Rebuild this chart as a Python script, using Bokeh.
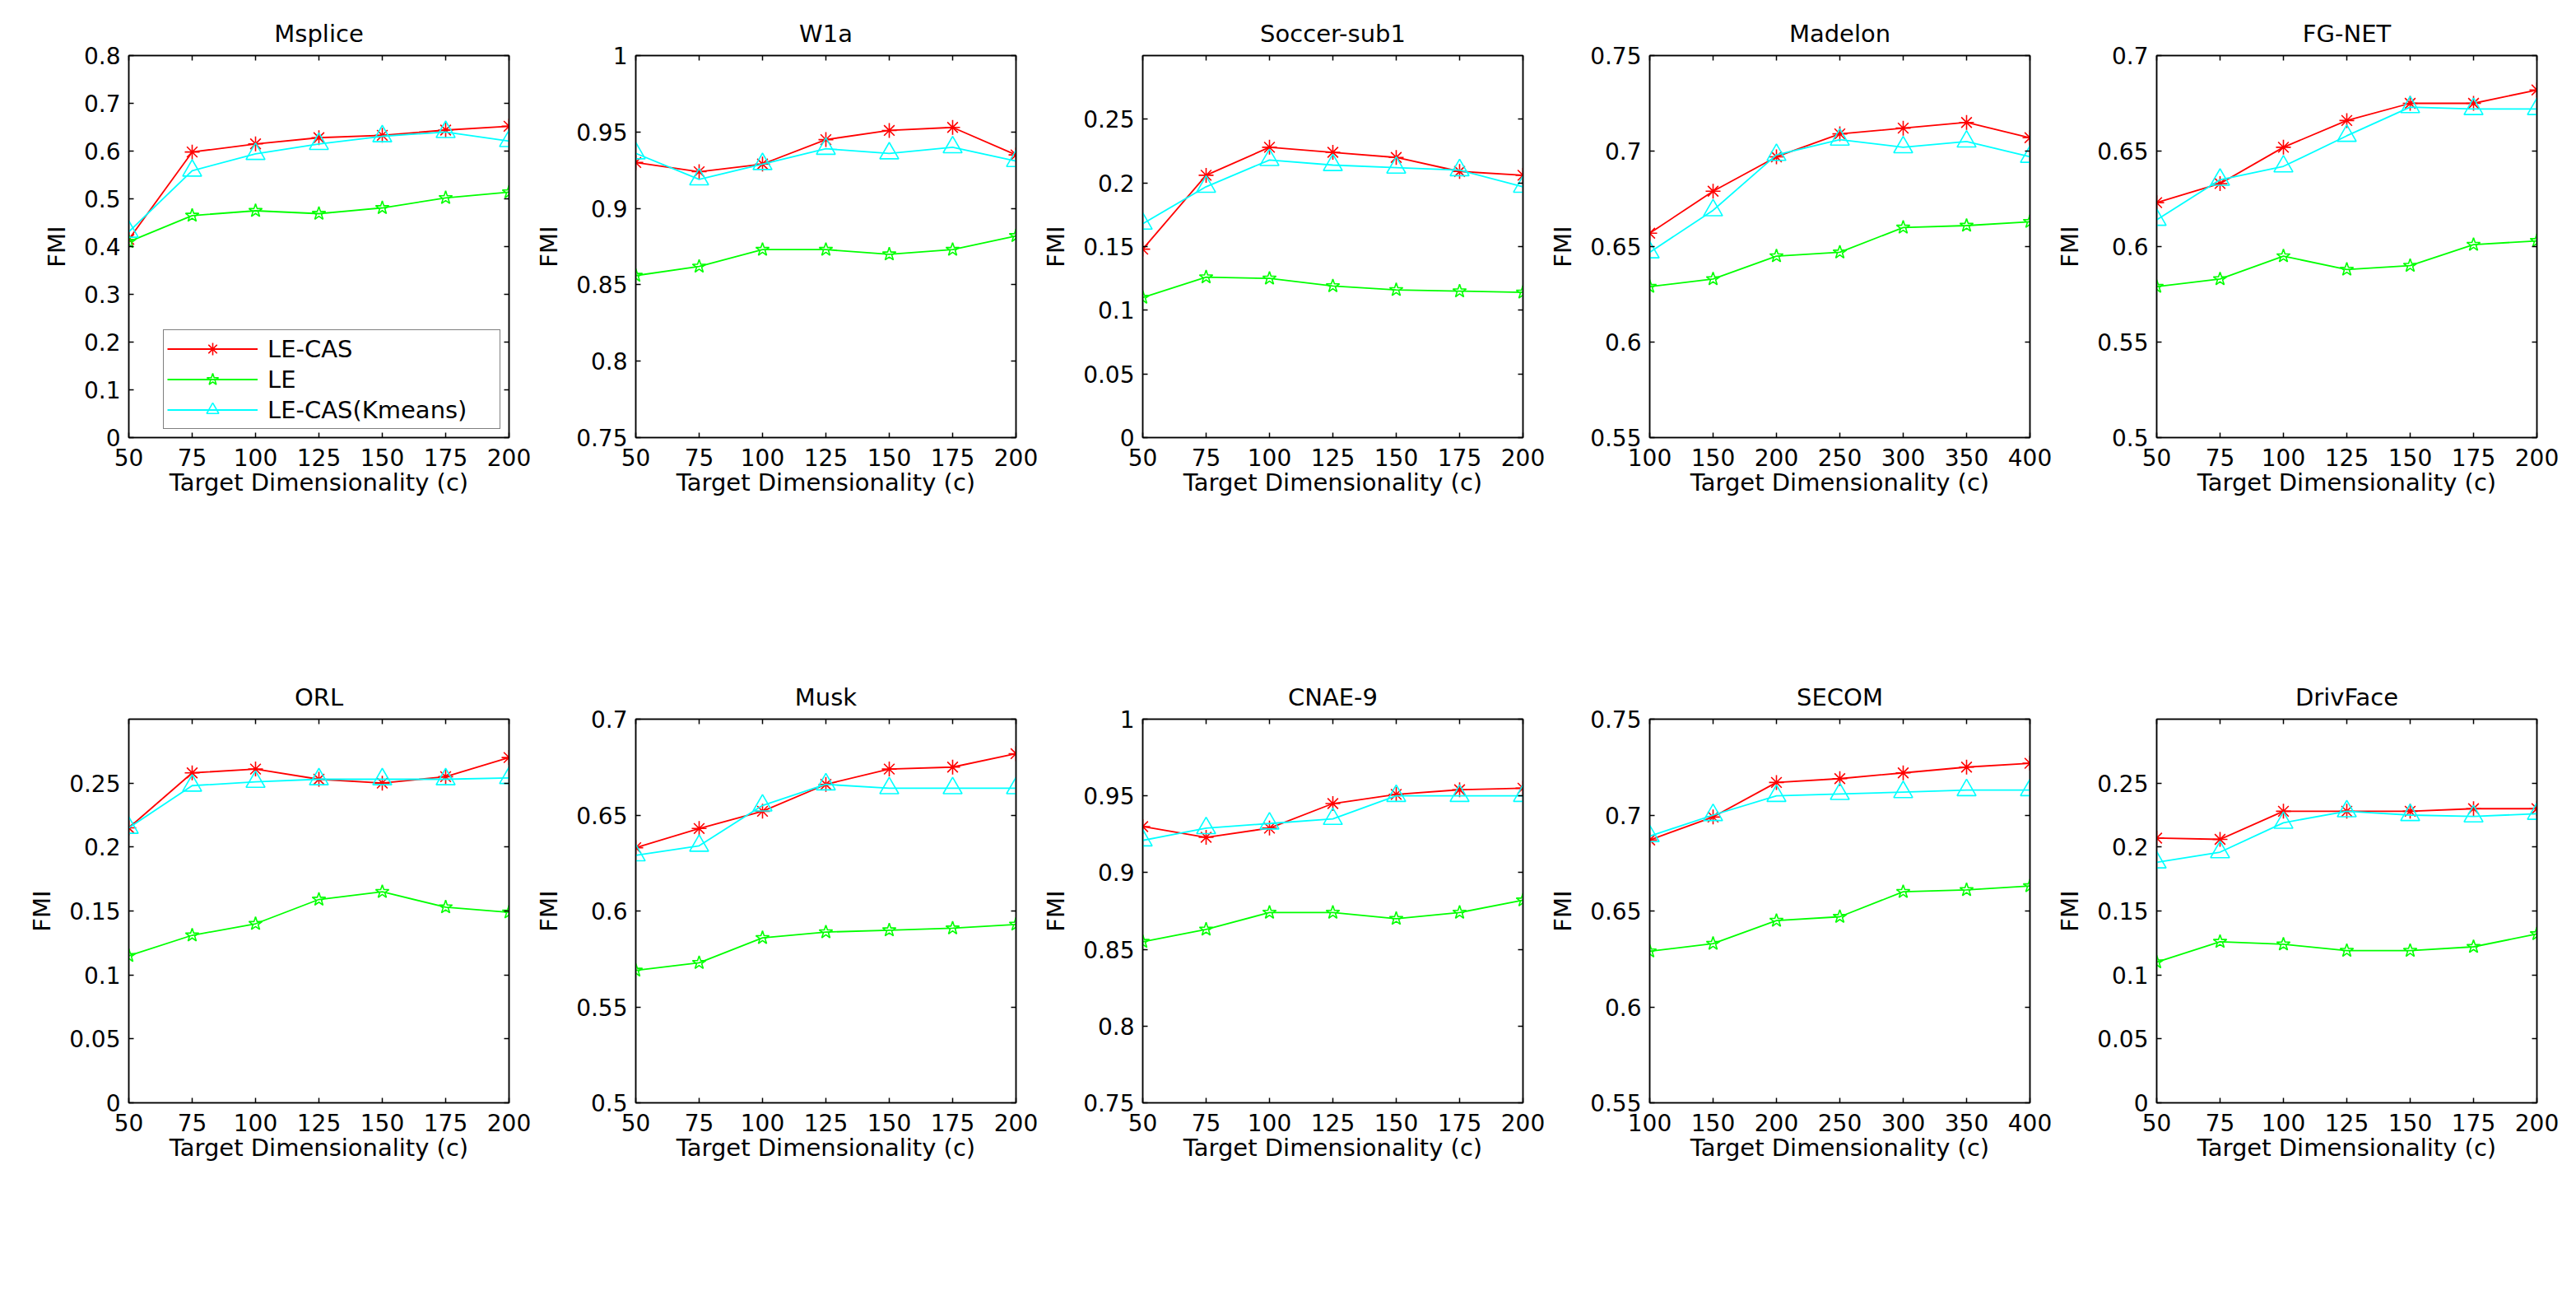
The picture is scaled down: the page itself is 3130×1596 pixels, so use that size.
from bokeh.plotting import figure
from bokeh.models import (Range1d, FixedTicker, LinearAxis, CustomJSTickFormatter,
                          Legend, LegendItem)
from bokeh.layouts import column, row
from bokeh.embed import file_html
from bokeh.resources import INLINE

FONT = "DejaVu Sans"

# ---------------- data ----------------
dims_small = [50, 75, 100, 125, 150, 175, 200]
dims_large = [100, 150, 200, 250, 300, 350, 400]

series_names = ["LE-CAS", "LE", "LE-CAS(Kmeans)"]

msplice_lecas = [0.415, 0.598, 0.615, 0.628, 0.633, 0.644, 0.652]
msplice_le = [0.410, 0.465, 0.475, 0.469, 0.481, 0.502, 0.514]
msplice_km = [0.431, 0.559, 0.594, 0.615, 0.631, 0.640, 0.621]

w1a_lecas = [0.930, 0.924, 0.929, 0.945, 0.951, 0.953, 0.935]
w1a_le = [0.856, 0.862, 0.873, 0.873, 0.870, 0.873, 0.882]
w1a_km = [0.936, 0.919, 0.929, 0.939, 0.936, 0.940, 0.931]

soccer_lecas = [0.148, 0.206, 0.228, 0.224, 0.220, 0.209, 0.206]
soccer_le = [0.110, 0.126, 0.125, 0.119, 0.116, 0.115, 0.114]
soccer_km = [0.168, 0.197, 0.218, 0.214, 0.212, 0.210, 0.197]

madelon_lecas = [0.657, 0.679, 0.697, 0.709, 0.712, 0.715, 0.707]
madelon_le = [0.629, 0.633, 0.645, 0.647, 0.660, 0.661, 0.663]
madelon_km = [0.647, 0.669, 0.698, 0.706, 0.702, 0.705, 0.697]

fgnet_lecas = [0.623, 0.633, 0.652, 0.666, 0.675, 0.675, 0.682]
fgnet_le = [0.579, 0.583, 0.595, 0.588, 0.590, 0.601, 0.603]
fgnet_km = [0.614, 0.635, 0.642, 0.658, 0.673, 0.672, 0.672]

orl_lecas = [0.215, 0.258, 0.261, 0.253, 0.250, 0.255, 0.270]
orl_le = [0.115, 0.131, 0.140, 0.159, 0.165, 0.153, 0.149]
orl_km = [0.215, 0.248, 0.251, 0.253, 0.253, 0.253, 0.254]

musk_lecas = [0.633, 0.643, 0.652, 0.666, 0.674, 0.675, 0.682]
musk_le = [0.569, 0.573, 0.586, 0.589, 0.590, 0.591, 0.593]
musk_km = [0.629, 0.634, 0.655, 0.666, 0.664, 0.664, 0.664]

cnae_lecas = [0.930, 0.923, 0.929, 0.945, 0.951, 0.954, 0.955]
cnae_le = [0.855, 0.863, 0.874, 0.874, 0.870, 0.874, 0.882]
cnae_km = [0.921, 0.929, 0.932, 0.935, 0.950, 0.950, 0.950]

secom_lecas = [0.687, 0.699, 0.717, 0.719, 0.722, 0.725, 0.727]
secom_le = [0.629, 0.633, 0.645, 0.647, 0.660, 0.661, 0.663]
secom_km = [0.689, 0.700, 0.710, 0.711, 0.712, 0.713, 0.713]

drivface_lecas = [0.207, 0.206, 0.228, 0.228, 0.228, 0.230, 0.230]
drivface_le = [0.110, 0.126, 0.124, 0.119, 0.119, 0.122, 0.132]
drivface_km = [0.188, 0.196, 0.219, 0.228, 0.225, 0.224, 0.226]

titles = ["Msplice", "W1a", "Soccer-sub1", "Madelon", "FG-NET",
          "ORL", "Musk", "CNAE-9", "SECOM", "DrivFace"]

y_limits = [(0, 0.8), (0.75, 1.0), (0, 0.3), (0.55, 0.75), (0.5, 0.7),
            (0, 0.3), (0.5, 0.7), (0.75, 1.0), (0.55, 0.75), (0, 0.3)]
y_tick_values = [
    [0, 0.1, 0.2, 0.3, 0.4, 0.5, 0.6, 0.7, 0.8],
    [0.75, 0.8, 0.85, 0.9, 0.95, 1.0],
    [0, 0.05, 0.1, 0.15, 0.2, 0.25],
    [0.55, 0.6, 0.65, 0.7, 0.75],
    [0.5, 0.55, 0.6, 0.65, 0.7],
    [0, 0.05, 0.1, 0.15, 0.2, 0.25],
    [0.5, 0.55, 0.6, 0.65, 0.7],
    [0.75, 0.8, 0.85, 0.9, 0.95, 1.0],
    [0.55, 0.6, 0.65, 0.7, 0.75],
    [0, 0.05, 0.1, 0.15, 0.2, 0.25],
]
x_values = [dims_small, dims_small, dims_small, dims_large, dims_small,
            dims_small, dims_small, dims_small, dims_large, dims_small]
panel_series = [
    (msplice_lecas, msplice_le, msplice_km),
    (w1a_lecas, w1a_le, w1a_km),
    (soccer_lecas, soccer_le, soccer_km),
    (madelon_lecas, madelon_le, madelon_km),
    (fgnet_lecas, fgnet_le, fgnet_km),
    (orl_lecas, orl_le, orl_km),
    (musk_lecas, musk_le, musk_km),
    (cnae_lecas, cnae_le, cnae_km),
    (secom_lecas, secom_le, secom_km),
    (drivface_lecas, drivface_le, drivface_km),
]

# ---------------- styling ----------------
COLORS = ["#FF0000", "#00FF00", "#00FFFF"]
MARKERS = ["asterisk", "star", "triangle"]
MSIZES = [18, 17, 23]
TICK_FS = "28px"
LABEL_FS = "29px"
AXW = 1.5

fmt_js = "return Number(tick.toFixed(4)).toString()"


def style_axis(ax, standoff, label_standoff):
    ax.major_tick_in = 6
    ax.major_tick_out = 0
    ax.minor_tick_line_color = None
    ax.axis_line_width = AXW
    ax.axis_line_color = "black"
    ax.major_tick_line_width = AXW
    ax.major_tick_line_color = "black"
    ax.major_label_text_font = FONT
    ax.major_label_text_font_size = TICK_FS
    ax.major_label_text_color = "black"
    ax.major_label_standoff = standoff
    ax.axis_label_text_font = FONT
    ax.axis_label_text_font_size = LABEL_FS
    ax.axis_label_text_font_style = "normal"
    ax.axis_label_text_color = "black"
    ax.axis_label_standoff = label_standoff


def make_panel(i, frame_h, top_b, bottom_b):
    xs = x_values[i]
    left_b = 156 if i % 5 == 0 else 126
    p = figure(frame_width=462, frame_height=frame_h,
               x_range=Range1d(xs[0], xs[-1]), y_range=Range1d(*y_limits[i]),
               output_backend="svg", toolbar_location=None,
               min_border_left=left_b, min_border_right=28,
               min_border_top=top_b, min_border_bottom=bottom_b,
               title=titles[i])
    p.grid.visible = False
    p.outline_line_color = "black"
    p.outline_line_width = AXW
    p.background_fill_color = "white"
    p.border_fill_color = "white"
    p.title.align = "center"
    p.title.text_font = FONT
    p.title.text_font_size = "29px"
    p.title.text_font_style = "normal"
    p.title.text_color = "black"
    p.title.standoff = 19

    p.xaxis.ticker = FixedTicker(ticks=xs)
    p.yaxis.ticker = FixedTicker(ticks=y_tick_values[i])
    p.xaxis.formatter = CustomJSTickFormatter(code=fmt_js)
    p.yaxis.formatter = CustomJSTickFormatter(code=fmt_js)
    p.xaxis.axis_label = "Target Dimensionality (c)"
    p.yaxis.axis_label = "FMI"
    style_axis(p.xaxis[0], 13, 0)
    style_axis(p.yaxis[0], 10, 13)

    for side, ticks in (("right", y_tick_values[i]), ("above", xs)):
        ax = LinearAxis(ticker=FixedTicker(ticks=ticks),
                        formatter=CustomJSTickFormatter(code="return ''"))
        style_axis(ax, 0, 0)
        ax.major_label_text_font_size = "0px"
        p.add_layout(ax, side)

    items = []
    for k, vals in enumerate(panel_series[i]):
        ln = p.line(xs, vals, line_color=COLORS[k], line_width=1.8)
        sc = p.scatter(xs, vals, marker=MARKERS[k], size=MSIZES[k],
                       line_color=COLORS[k], fill_color=None, line_width=1.6)
        items.append(LegendItem(label=series_names[k], renderers=[ln, sc]))

    if i == 0:
        leg = Legend(items=items, location="bottom_right", margin=10,
                     padding=4, spacing=0, glyph_width=110, glyph_height=37,
                     label_height=37, label_width=278, label_standoff=12,
                     label_text_font=FONT, label_text_font_size=LABEL_FS,
                     label_text_color="black",
                     border_line_color="black", border_line_width=1.5,
                     background_fill_color="white", background_fill_alpha=1.0)
        p.add_layout(leg)
    return p


row1 = [make_panel(i, 464, 67, 282) for i in range(5)]
row2 = [make_panel(i, 466, 60, 100) for i in range(5, 10)]

layout = column(row(*row1), row(*row2))
open("out.html", "w").write(file_html(layout, INLINE))
